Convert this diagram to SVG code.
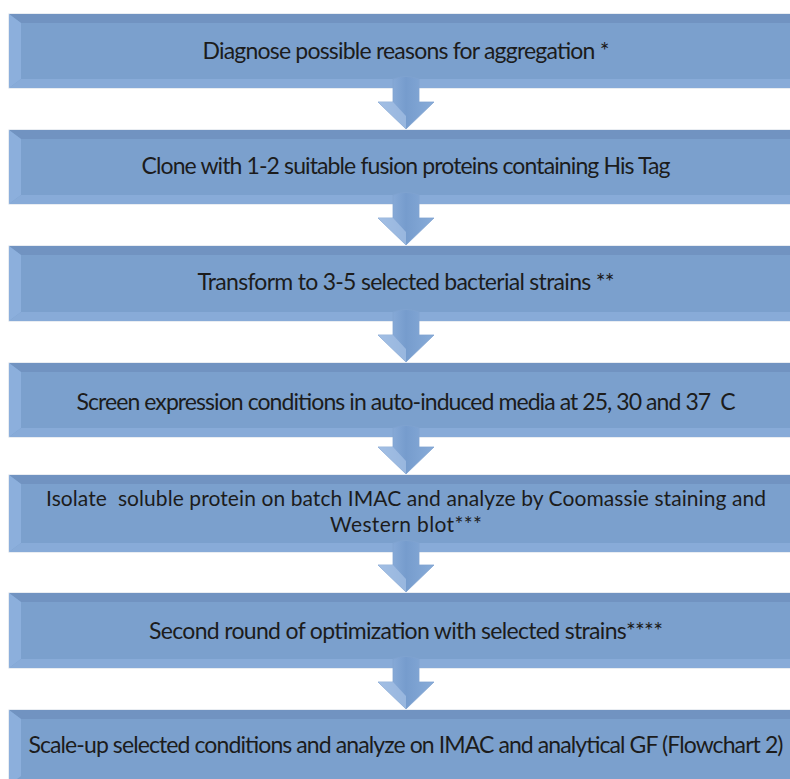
<svg xmlns="http://www.w3.org/2000/svg" width="790" height="779" viewBox="0 0 790 779">
<defs>
<style>
.box{fill:#7ba0cd;stroke:#d3dbe6;stroke-width:1}
.bt{fill:#7193c1}
.bl{fill:#8cafdc}
.bb{fill:#88abd8}
.lbl{font-family:Lato,"Liberation Sans",sans-serif;font-size:23px;fill:#1c1c1c;text-anchor:middle;white-space:pre}
.sm{font-size:21px}
.arr{fill:url(#ag);stroke:#80a3d0;stroke-width:0.8}
.arrhl{fill:#a6c2e6;opacity:0.7}
</style>
<linearGradient id="ag" x1="0" y1="0" x2="1" y2="0">
<stop offset="0" stop-color="#98b8e2"/>
<stop offset="0.5" stop-color="#769ccd"/>
<stop offset="1" stop-color="#88acd9"/>
</linearGradient>
</defs>
<rect width="790" height="779" fill="#ffffff"/>

<g id="node1">
<rect class="box" x="9" y="14" width="794" height="74"/>
<polygon class="bt" points="9,14 803,14 791,23 21,23"/>
<polygon class="bl" points="9,14 21,23 21,79 9,88"/>
<polygon class="bb" points="9,88 21,79 791,79 803,88"/>
<text class="lbl" x="406" y="59" textLength="407">Diagnose possible reasons for aggregation *</text>
</g>
<g id="node2">
<rect class="box" x="9" y="130" width="794" height="74"/>
<polygon class="bt" points="9,130 803,130 791,139 21,139"/>
<polygon class="bl" points="9,130 21,139 21,195 9,204"/>
<polygon class="bb" points="9,204 21,195 791,195 803,204"/>
<text class="lbl" x="406" y="174" textLength="529">Clone with 1-2 suitable fusion proteins containing His Tag</text>
</g>
<g id="node3">
<rect class="box" x="9" y="246" width="794" height="75"/>
<polygon class="bt" points="9,246 803,246 791,255 21,255"/>
<polygon class="bl" points="9,246 21,255 21,312 9,321"/>
<polygon class="bb" points="9,321 21,312 791,312 803,321"/>
<text class="lbl" x="406" y="290" textLength="417">Transform to 3-5 selected bacterial strains **</text>
</g>
<g id="node4">
<rect class="box" x="9" y="363" width="794" height="74"/>
<polygon class="bt" points="9,363 803,363 791,372 21,372"/>
<polygon class="bl" points="9,363 21,372 21,428 9,437"/>
<polygon class="bb" points="9,437 21,428 791,428 803,437"/>
<text class="lbl" x="406" y="410" textLength="659">Screen expression conditions in auto-induced media at 25, 30 and 37  C</text>
</g>
<g id="node5">
<rect class="box" x="9" y="475" width="794" height="77"/>
<polygon class="bt" points="9,475 803,475 791,484 21,484"/>
<polygon class="bl" points="9,475 21,484 21,543 9,552"/>
<polygon class="bb" points="9,552 21,543 791,543 803,552"/>
<text class="lbl sm" x="406" y="506" textLength="720">Isolate  soluble protein on batch IMAC and analyze by Coomassie staining and</text>
<text class="lbl sm" x="406" y="532" textLength="152">Western blot***</text>
</g>
<g id="node6">
<rect class="box" x="9" y="593" width="794" height="75"/>
<polygon class="bt" points="9,593 803,593 791,602 21,602"/>
<polygon class="bl" points="9,593 21,602 21,659 9,668"/>
<polygon class="bb" points="9,668 21,659 791,659 803,668"/>
<text class="lbl" x="406" y="639" textLength="514">Second round of optimization with selected strains****</text>
</g>
<g id="node7">
<rect class="box" x="9" y="710" width="794" height="75"/>
<polygon class="bt" points="9,710 803,710 791,719 21,719"/>
<polygon class="bl" points="9,710 21,719 21,776 9,785"/>
<text class="lbl" x="406" y="753" textLength="755">Scale-up selected conditions and analyze on IMAC and analytical GF (Flowchart 2)</text>
</g>

<g id="connectors">
<path class="arr" d="M393,79 Q406,74 419,79 L419,102 L434,102 L406,129 L378,102 L393,102 Z"/>
<path class="arrhl" d="M378,102 L393,102 L406,116 L406,129 Z"/>
<path class="arr" d="M393,195 Q406,190 419,195 L419,218 L434,218 L406,245 L378,218 L393,218 Z"/>
<path class="arrhl" d="M378,218 L393,218 L406,232 L406,245 Z"/>
<path class="arr" d="M393,312 Q406,307 419,312 L419,335 L434,335 L406,362 L378,335 L393,335 Z"/>
<path class="arrhl" d="M378,335 L393,335 L406,349 L406,362 Z"/>
<path class="arr" d="M393,428 Q406,423 419,428 L419,447 L434,447 L406,474 L378,447 L393,447 Z"/>
<path class="arrhl" d="M378,447 L393,447 L406,461 L406,474 Z"/>
<path class="arr" d="M393,543 Q406,538 419,543 L419,565 L434,565 L406,592 L378,565 L393,565 Z"/>
<path class="arrhl" d="M378,565 L393,565 L406,579 L406,592 Z"/>
<path class="arr" d="M393,659 Q406,654 419,659 L419,682 L434,682 L406,709 L378,682 L393,682 Z"/>
<path class="arrhl" d="M378,682 L393,682 L406,696 L406,709 Z"/>
</g>
</svg>
